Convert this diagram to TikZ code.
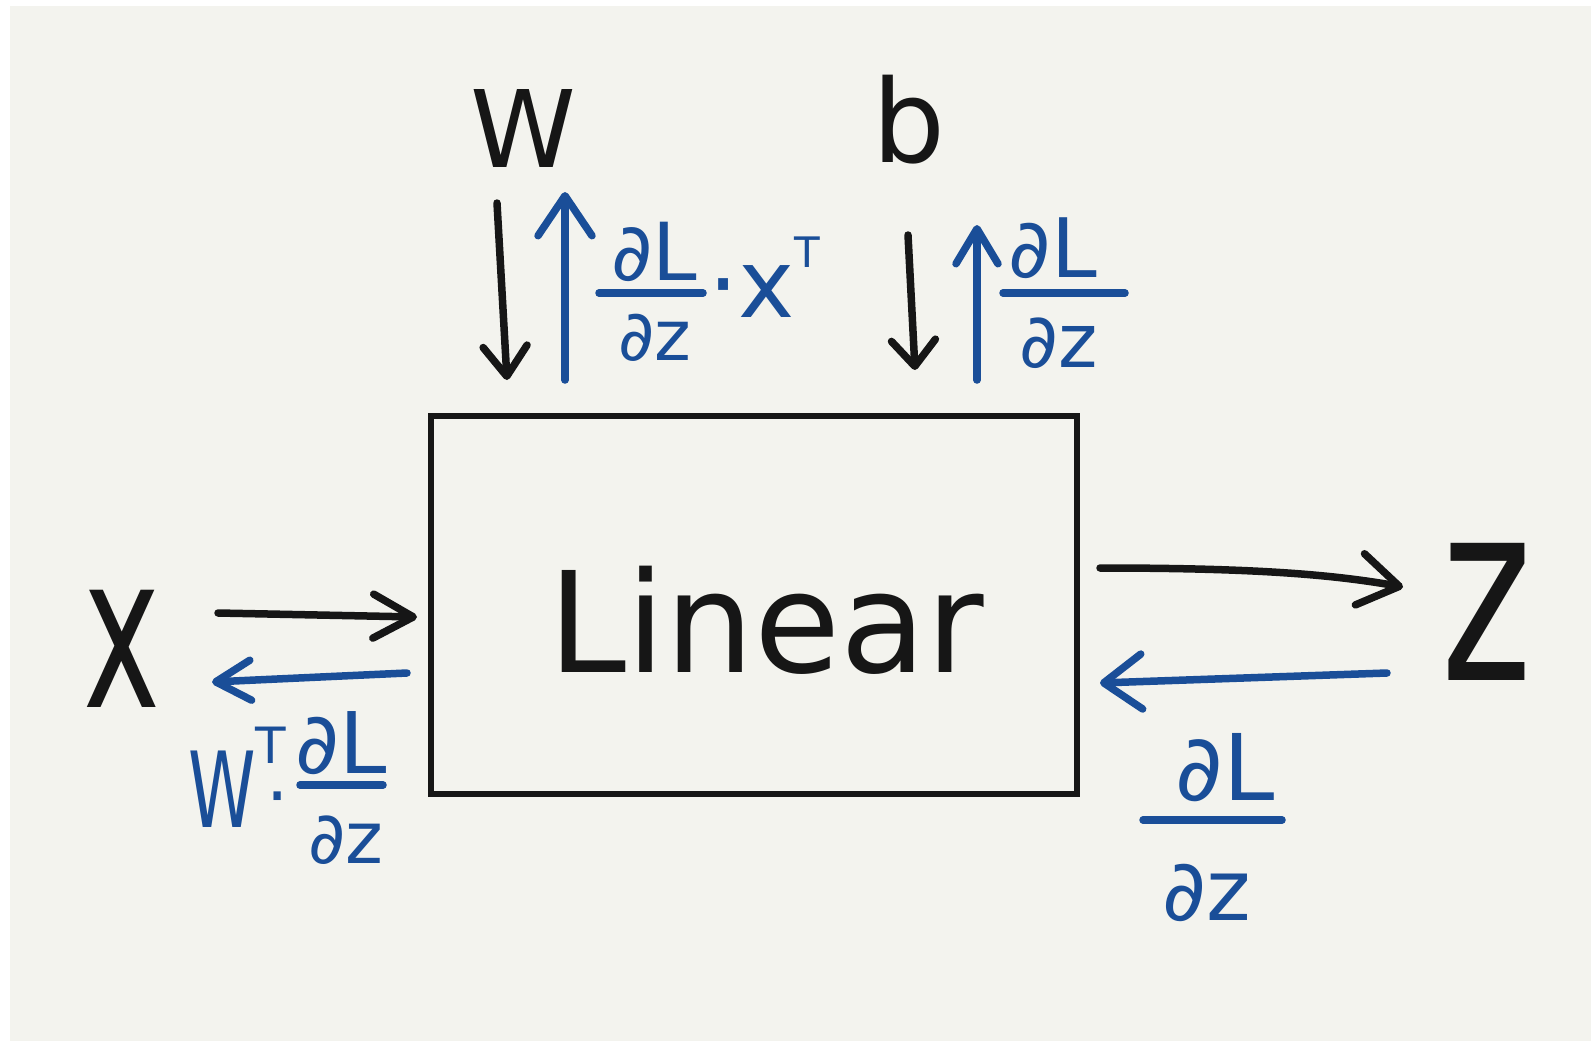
\documentclass[tikz,border=0pt]{standalone}
\usepackage{fontspec}
\setmainfont{DejaVu Sans}
\usetikzlibrary{arrows.meta}
\definecolor{paper}{RGB}{243,243,238}
\definecolor{ink}{RGB}{22,22,22}
\definecolor{penblue}{RGB}{26,78,152}
\newcommand\fs[1]{\fontsize{#1}{#1}\selectfont}
\begin{document}
\begin{tikzpicture}[x=1pt,y=-1pt,
  stroke/.style={line width=7.5pt, line cap=round, line join=round},
  barb/.style 2 args={-{Straight Barb[round,length=#1,width=#2]}},
  txt/.style={inner sep=0, anchor=base},
  blk/.style={txt, text=ink},
  blu/.style={txt, text=penblue},
  blockbox/.style={draw=ink, line width=6pt, inner sep=0,
    minimum width=646, minimum height=378}]
% paper
\fill[white] (0,0) rectangle (1591,1041);
\fill[paper] (10,6) rectangle (1591,1041);
\useasboundingbox (0,0) rectangle (1591,1041);

% the layer
\node[blockbox] (box) at (754,605) {};
\node[blk, font=\fs{140}] (lin) at (766,672) {Linear};

% inputs, parameters and output
\node[blk, font=\fs{107}] (W) at (523,167) {W};
\node[blk, font=\fs{115}] (b) at (909,162) {b};
\node[blk, font=\fs{130}] (x) at (122,707) {\scalebox{1}[1.65]{x}};
\node[blk, font=\fs{173}] (z) at (1487,680) {\scalebox{1}[1.45]{z}};

% arrow end points
\coordinate (wIn)  at (497,203); \coordinate (wBox) at (507,380);
\coordinate (wgB)  at (565,380); \coordinate (wgT)  at (565,192);
\coordinate (bIn)  at (908,235); \coordinate (bBox) at (915,370);
\coordinate (bgB)  at (977,380); \coordinate (bgT)  at (977,225);
\coordinate (xIn)  at (218,613); \coordinate (xBox) at (417,617);
\coordinate (xgB)  at (407,673); \coordinate (xgE)  at (212,682);
\coordinate (zOut) at (1100,568); \coordinate (zEnd) at (1403,587);
\coordinate (zgS)  at (1387,673); \coordinate (zgE)  at (1100,683);

% forward pass
\draw[stroke, ink, barb={30}{44}] (wIn) -- (wBox);
\draw[stroke, ink, barb={26}{44}] (bIn) -- (bBox);
\draw[stroke, ink, barb={40}{44}] (xIn) -- (xBox);
\draw[stroke, ink, barb={40}{52}] (zOut) .. controls (1250,568) and (1330,574) .. (zEnd);

% backward pass
\draw[stroke, penblue, barb={40}{54}] (wgB) -- (wgT);
\draw[stroke, penblue, barb={35}{42}] (bgB) -- (bgT);
\draw[stroke, penblue, barb={35}{40}] (xgB) -- (xgE);
\draw[stroke, penblue, barb={38}{55}] (zgS) -- (zgE);

% dL/dz . x^T
\node[blu, font=\fs{80}] (n1) at (654,280) {∂L};
\node[blu, font=\fs{70}] (d1) at (655,360) {∂z};
\draw[stroke, penblue] (599,293) -- (703,293);
\node[blu, anchor=base west, font=\fs{95}] (xt) at (708,317) {·x\raisebox{50pt}{\fs{42}T}};

% dL/dz (bias)
\node[blu, font=\fs{82}] (n2) at (1053,277) {∂L};
\node[blu, font=\fs{75}] (d2) at (1059,367) {∂z};
\draw[stroke, penblue] (1003,293) -- (1125,293);

% W^T . dL/dz
\node[blu, anchor=base west, font=\fs{105}] (wx) at (188,827) {\scalebox{0.65}[1]{W}};
\node[blu, anchor=base west] (wT) at (255,827)
  {\raisebox{64pt}{\fs{50}T}\hspace{-19pt}\raisebox{7pt}{\fs{70}·}};
\node[blu, font=\fs{85}] (n3) at (341,773) {∂L};
\node[blu, font=\fs{72}] (d3) at (346,863) {∂z};
\draw[stroke, penblue] (300,785) -- (383,785);

% dL/dz (output)
\node[blu, font=\fs{92}] (n4) at (1225,800) {∂L};
\node[blu, font=\fs{85}] (d4) at (1207,920) {∂z};
\draw[stroke, penblue] (1143,820) -- (1282,820);
\end{tikzpicture}
\end{document}
